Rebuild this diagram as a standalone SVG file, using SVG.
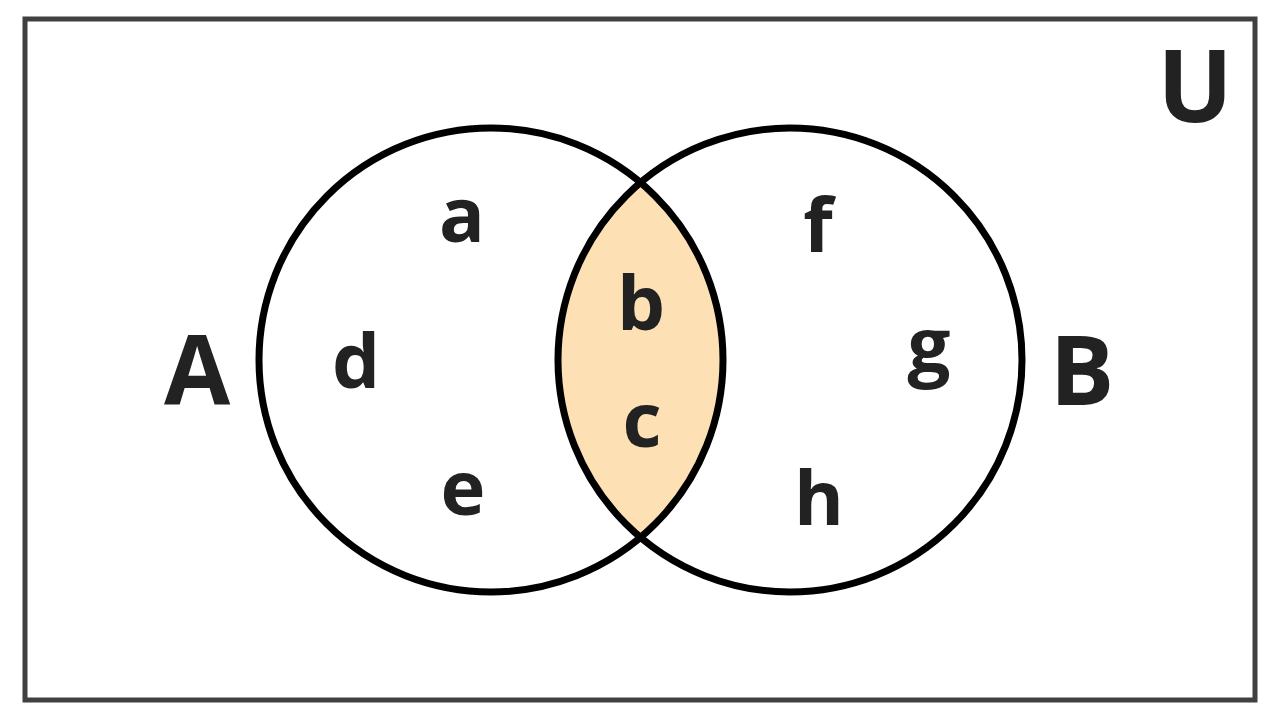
<svg xmlns="http://www.w3.org/2000/svg" width="1280" height="720" viewBox="0 0 1280 720">
<style>
.c{fill:none;stroke:#000;stroke-width:7}
.t{font-family:"Open Sans",sans-serif;font-weight:bold;fill:#222;text-anchor:middle}
.s{font-size:76px}
.l{font-size:96px}
</style>
<defs><clipPath id="ca"><circle cx="491" cy="360" r="232"/></clipPath></defs>
<rect width="1280" height="720" fill="#fff"/>
<rect x="25" y="19" width="1230" height="681" fill="none" stroke="#404040" stroke-width="5"/>
<g id="intersection"><circle cx="790" cy="360" r="232" fill="#FDE1B5" clip-path="url(#ca)"/></g>
<g id="setA"><circle class="c" cx="491" cy="360" r="232"/><text class="t l" x="197" y="405">A</text></g>
<g id="setB"><circle class="c" cx="790" cy="360" r="232"/><text class="t l" x="1082" y="405">B</text></g>
<g id="universe"><text class="t" font-size="100" x="1195" y="122">U</text></g>
<g id="elements">
<text class="t s" x="462" y="242">a</text>
<text class="t s" x="641" y="330">b</text>
<text class="t s" x="642" y="447">c</text>
<text class="t s" x="356" y="388">d</text>
<text class="t s" x="463" y="515">e</text>
<text class="t s" x="818" y="252">f</text>
<text class="t s" x="929" y="372">g</text>
<text class="t s" x="819" y="525">h</text>
</g>
</svg>
